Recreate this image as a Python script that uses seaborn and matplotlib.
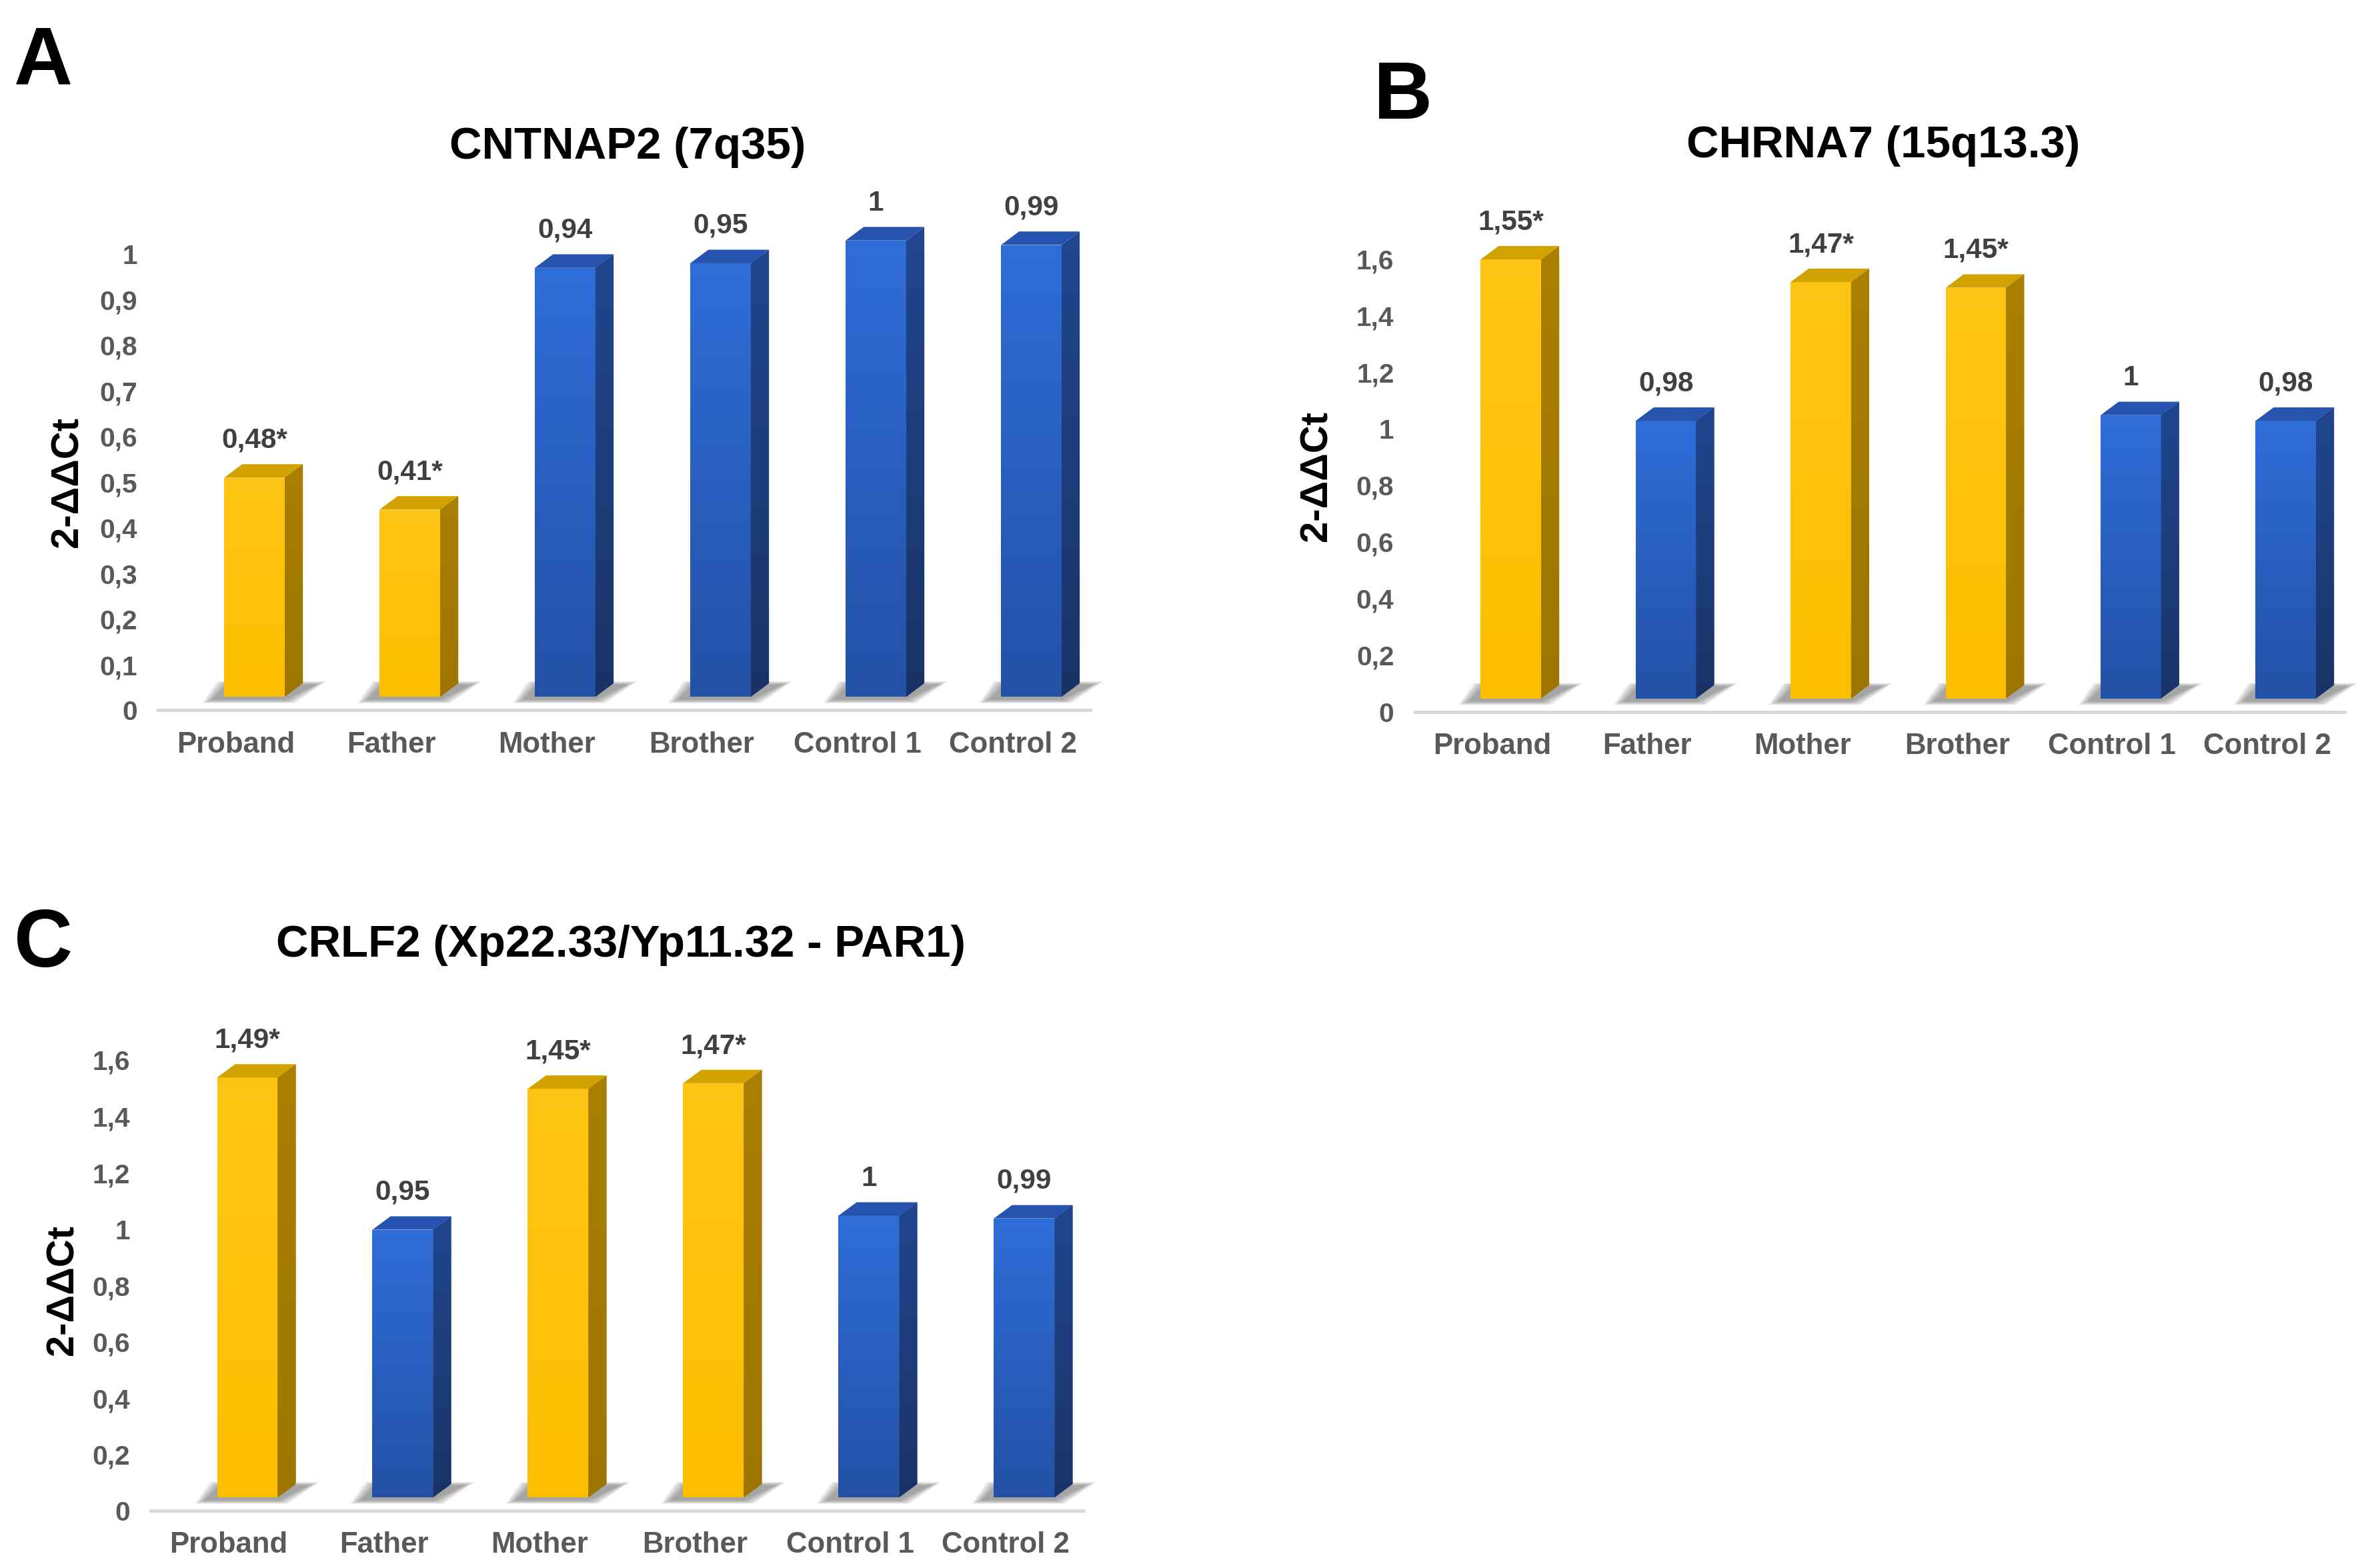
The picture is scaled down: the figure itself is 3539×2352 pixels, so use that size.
import numpy as np
import matplotlib
matplotlib.use("Agg")
import matplotlib.pyplot as plt
from matplotlib.patches import Polygon
from matplotlib.colors import LinearSegmentedColormap
import seaborn as sns

# data
categories = ["Proband", "Father", "Mother", "Brother", "Control 1", "Control 2"]

cntnap2_values = [0.48, 0.41, 0.94, 0.95, 1.00, 0.99]
cntnap2_labels = ["0,48*", "0,41*", "0,94", "0,95", "1", "0,99"]
cntnap2_altered = [True, True, False, False, False, False]
cntnap2_ticks = [0, 0.1, 0.2, 0.3, 0.4, 0.5, 0.6, 0.7, 0.8, 0.9, 1]

chrna7_values = [1.55, 0.98, 1.47, 1.45, 1.00, 0.98]
chrna7_labels = ["1,55*", "0,98", "1,47*", "1,45*", "1", "0,98"]
chrna7_altered = [True, False, True, True, False, False]
chrna7_ticks = [0, 0.2, 0.4, 0.6, 0.8, 1, 1.2, 1.4, 1.6]

crlf2_values = [1.49, 0.95, 1.45, 1.47, 1.00, 0.99]
crlf2_labels = ["1,49*", "0,95", "1,45*", "1,47*", "1", "0,99"]
crlf2_altered = [True, False, True, True, False, False]
crlf2_ticks = [0, 0.2, 0.4, 0.6, 0.8, 1, 1.2, 1.4, 1.6]

sns.set_style("white")
plt.rcParams['font.family'] = ['Liberation Sans', 'DejaVu Sans']

YELLOW = {"front": ("#FFC514", "#FCBF00"), "side": ("#A98000", "#9E7500"), "top": "#D2A200"}
BLUE = {"front": ("#2F6DD9", "#2351A6"), "side": ("#21468F", "#193366"), "top": "#2653AE"}


def tick_fmt(v):
    if v == int(v):
        return str(int(v))
    return ("%g" % v).replace(".", ",")


def gradient(ax, extent, c_top, c_bot, zorder, clip):
    cmap = LinearSegmentedColormap.from_list("g", [c_bot, c_top])
    g = np.linspace(0, 1, 256).reshape(-1, 1)
    im = ax.imshow(g, extent=extent, origin="lower", aspect="auto", cmap=cmap,
                   zorder=zorder, interpolation="bilinear")
    im.set_clip_path(clip)
    return im


def draw_panel(ax, values, labels, altered, ticks, ymax):
    colors = ["#FFC000" if a else "#2E66CC" for a in altered]
    sns.barplot(x=categories, y=values, hue=categories, palette=colors,
                legend=False, width=0.39, ax=ax, saturation=1)

    px = 1 / 103.0            # one screen px (of the small view) in category units
    py = ymax / 303.0         # one screen px in value units
    dx = 12 * px              # depth of the fake 3D
    dy = 9 * py
    shift = 0.12

    for patch, a, lab in zip(ax.patches, altered, labels):
        sty = YELLOW if a else BLUE
        x0 = patch.get_x() + shift
        w = patch.get_width()
        h = patch.get_height()
        x1 = x0 + w
        y0 = dy
        y1 = y0 + h
        patch.set_x(x0)
        patch.set_y(y0)
        patch.set_edgecolor("none")
        patch.set_clip_on(False)

        # soft floor shadow: stacked translucent layers
        for k in range(6, -1, -1):
            e = k * 1.1
            sh = Polygon([(x0 - 8 * px - e * px, y0 - 2 * py - e * 0.35 * py),
                          (x1 + e * px, y0 - 2 * py - e * 0.35 * py),
                          (x1 + dx + 9 * px + e * px, y0 + 8 * py + e * 0.35 * py),
                          (x0 + 2 * px - e * px, y0 + 8 * py + e * 0.35 * py)],
                         closed=True, facecolor="#5A5A5A", alpha=0.1, edgecolor="none",
                         zorder=1, clip_on=False)
            ax.add_patch(sh)

        # front face gradient
        gradient(ax, [x0, x1, y0, y1], sty["front"][0], sty["front"][1], 3, patch)

        # side face
        side = Polygon([(x1, y0), (x1 + dx, y0 + dy), (x1 + dx, y1 + dy), (x1, y1)],
                       closed=True, facecolor=sty["side"][0], edgecolor="none",
                       zorder=3, clip_on=False)
        ax.add_patch(side)
        gradient(ax, [x1, x1 + dx, y0, y1 + dy], sty["side"][0], sty["side"][1], 3.1, side)

        # top face
        top = Polygon([(x0, y1), (x1, y1), (x1 + dx, y1 + dy), (x0 + dx, y1 + dy)],
                      closed=True, facecolor=sty["top"], edgecolor="none",
                      zorder=3.2, clip_on=False)
        ax.add_patch(top)

        ax.annotate(lab, (x0 + w / 2, y1 + dy), xytext=(0, 5), textcoords="offset points",
                    ha="center", va="bottom", fontsize=13.5, fontweight="bold",
                    color="#404040", annotation_clip=False)

    ax.set_xlim(-0.5, len(categories) - 0.5)
    ax.set_ylim(0, ymax)
    ax.set_yticks(ticks)
    ax.set_yticklabels([tick_fmt(t) for t in ticks])
    ax.tick_params(axis="both", length=0, labelcolor="#595959")
    ax.tick_params(axis="y", pad=10, labelsize=13)
    ax.tick_params(axis="x", pad=10, labelsize=14)
    for t in ax.get_xticklabels() + ax.get_yticklabels():
        t.set_fontweight("bold")
    for s in ["top", "right", "left"]:
        ax.spines[s].set_visible(False)
    ax.spines["bottom"].set_color("#D9D9D9")
    ax.spines["bottom"].set_linewidth(1.6)
    ax.set_xlabel("")
    ax.set_ylabel("2-ΔΔCt", fontsize=18.5, fontweight="bold", color="black")


fig = plt.figure(figsize=(3539 / 225, 2352 / 225), dpi=225)
fig.patch.set_facecolor("white")

ax_a = fig.add_axes([0.067, 0.547, 0.395, 0.291])
ax_b = fig.add_axes([0.5995, 0.546, 0.394, 0.289])
ax_c = fig.add_axes([0.064, 0.0365, 0.395, 0.2875])

draw_panel(ax_a, cntnap2_values, cntnap2_labels, cntnap2_altered, cntnap2_ticks, 1.0)
draw_panel(ax_b, chrna7_values, chrna7_labels, chrna7_altered, chrna7_ticks, 1.6)
draw_panel(ax_c, crlf2_values, crlf2_labels, crlf2_altered, crlf2_ticks, 1.6)

ax_a.yaxis.set_label_coords(-0.078, 0.5)
ax_b.yaxis.set_label_coords(-0.086, 0.52)
ax_c.yaxis.set_label_coords(-0.075, 0.49)

fig.text(0.266, 0.906, "CNTNAP2 (7q35)", ha="center", va="center",
         fontsize=21.5, fontweight="bold", color="black")
fig.text(0.798, 0.907, "CHRNA7 (15q13.3)", ha="center", va="center",
         fontsize=21.5, fontweight="bold", color="black")
fig.text(0.263, 0.397, "CRLF2 (Xp22.33/Yp11.32 - PAR1)", ha="center", va="center",
         fontsize=21.5, fontweight="bold", color="black")

fig.text(0.006, 0.960, "A", ha="left", va="center", fontsize=39, fontweight="bold", color="black")
fig.text(0.582, 0.938, "B", ha="left", va="center", fontsize=39, fontweight="bold", color="black")
fig.text(0.006, 0.397, "C", ha="left", va="center", fontsize=39, fontweight="bold", color="black")

fig.savefig("out.png", dpi=225, facecolor="white")
